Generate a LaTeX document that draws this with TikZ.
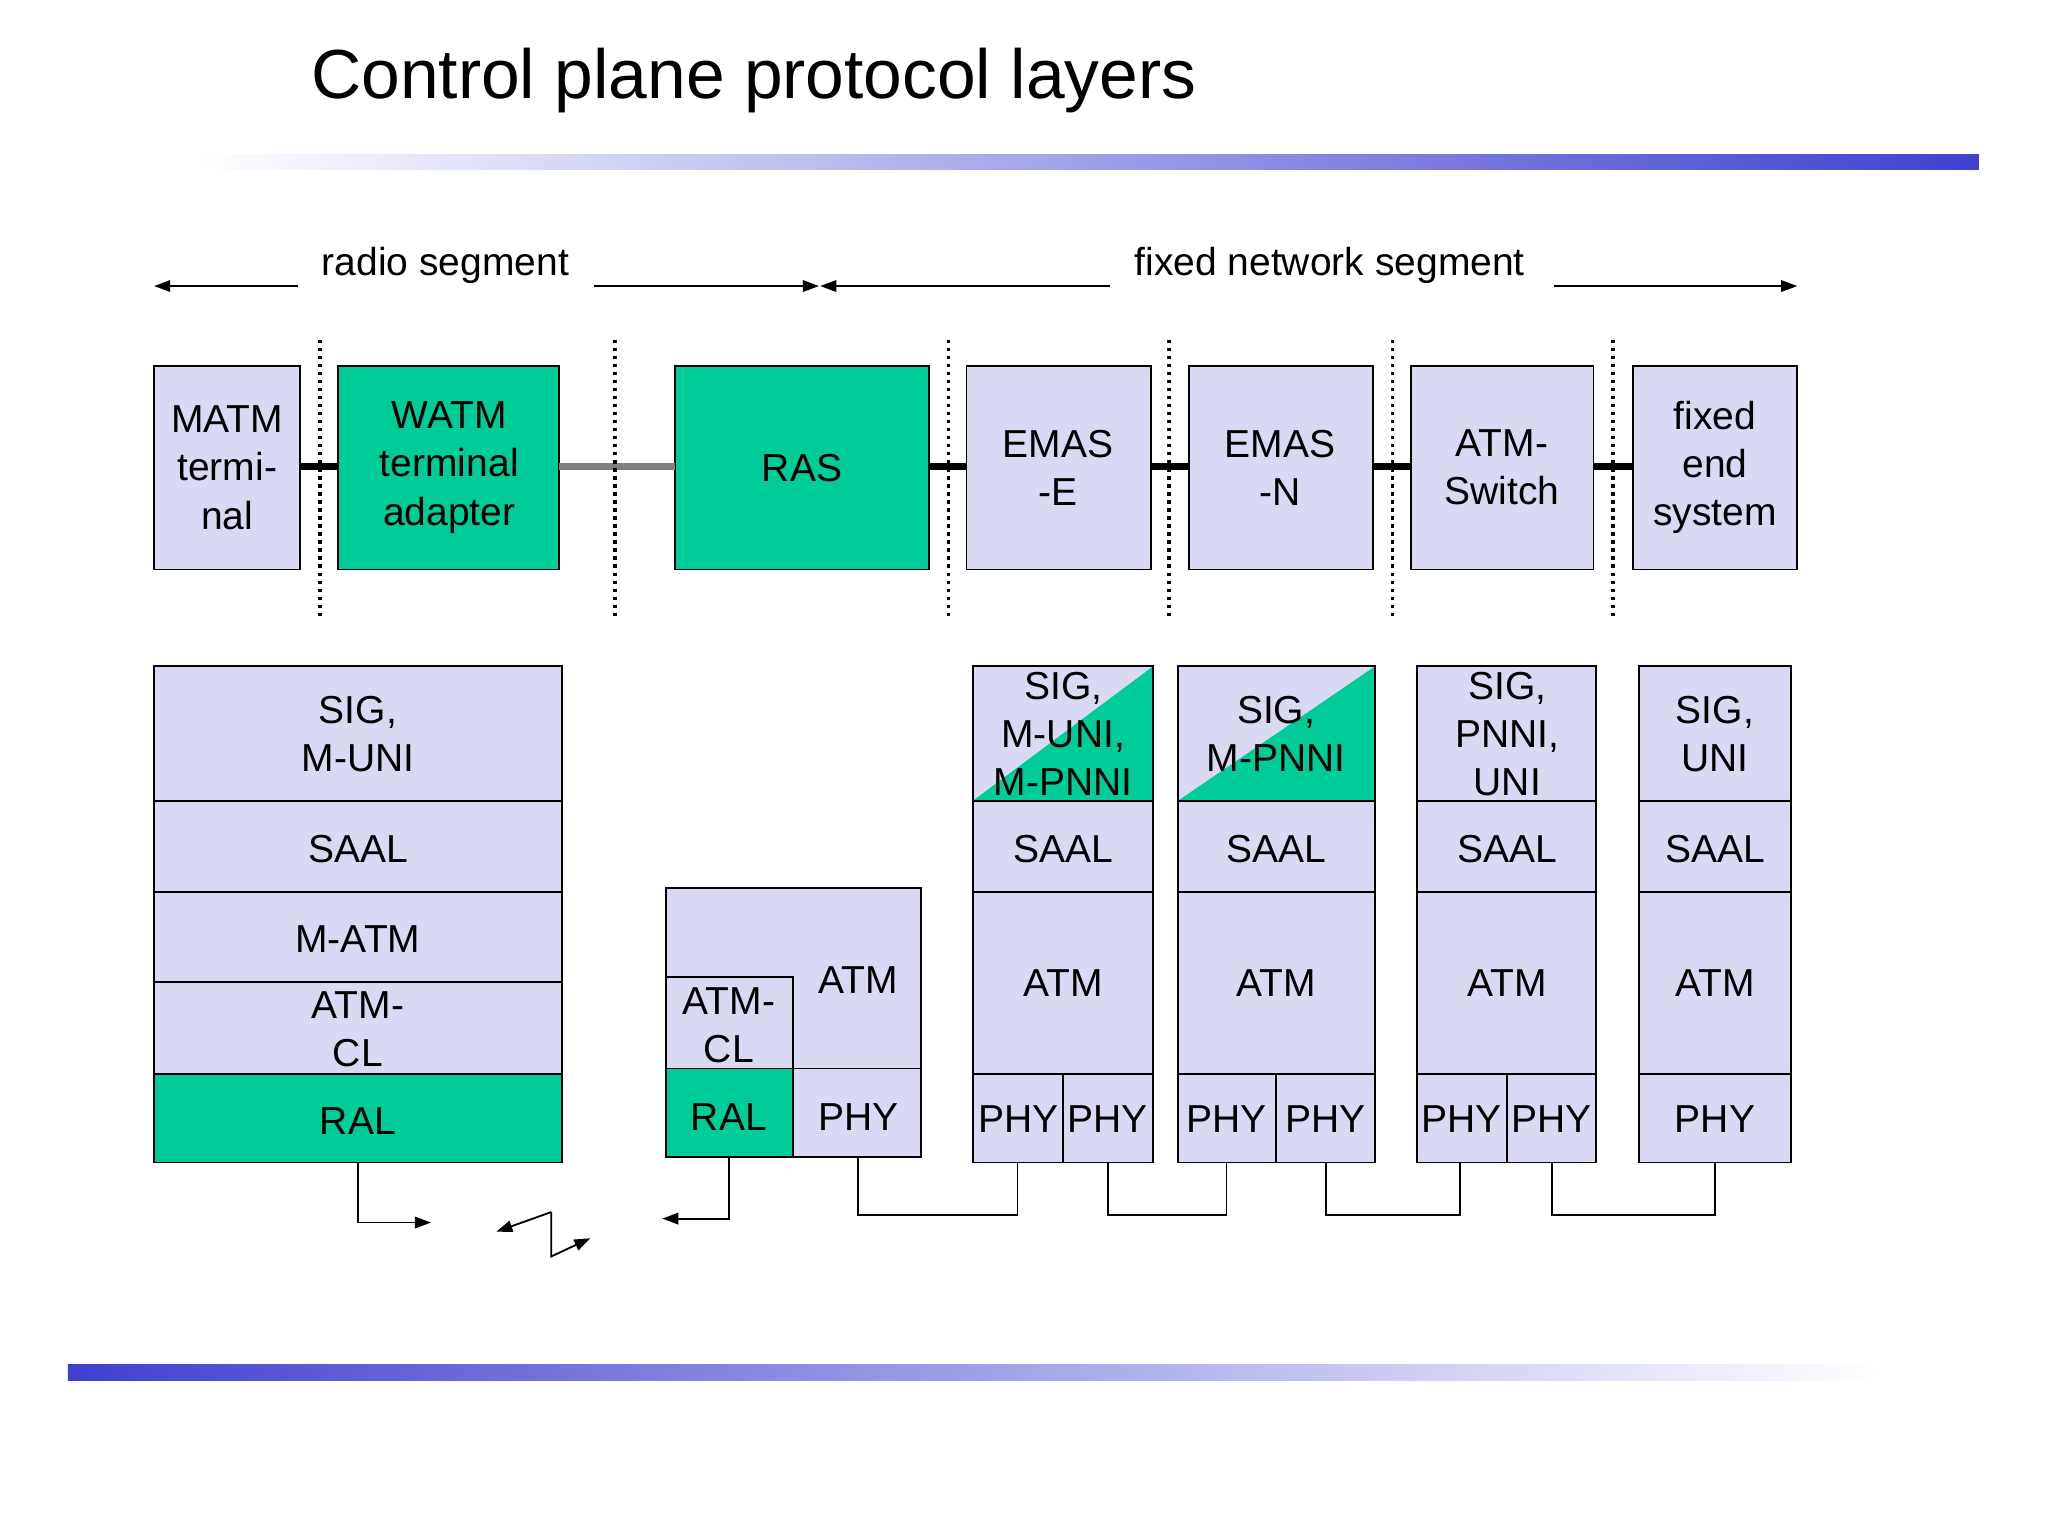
\documentclass[tikz,border=0pt]{standalone}
\usepackage{fontspec}
\setmainfont{Liberation Sans}
\usetikzlibrary{arrows.meta,calc}
\definecolor{lav}{HTML}{D9D9F4}
\definecolor{grn}{HTML}{00CC99}
\definecolor{blu}{HTML}{4040D0}
\begin{document}
\begin{tikzpicture}[x=0.02cm,y=-0.02cm,
  box/.style={draw=black,line width=0.8pt,fill=lav},
  gbox/.style={draw=black,line width=0.8pt,fill=grn},
  lbl/.style={font=\fontsize{17}{21}\selectfont,align=center,inner sep=0pt},
  link/.style={line width=3pt},
  sep/.style={line width=1.5pt,dotted},
  wire/.style={line width=0.8pt},
  tip/.style={-{Triangle[length=7pt,width=5pt]}}]
\useasboundingbox (0,0) rectangle (1568,1176);
\node[font=\fontsize{30.3}{34}\selectfont,anchor=west,inner sep=0pt] (title) at (238,62) {Control plane protocol layers};
\shade[left color=white,right color=blu] (150,118) rectangle (1515,130);
\shade[left color=blu,right color=white] (52,1045) rectangle (1440,1057);
% segments
\node[lbl] (rs) at (341,203) {radio segment};
\node[lbl] (fs) at (1018,203) {fixed network segment};
\coordinate (a1) at (228,219); \coordinate (a2) at (118,219);
\coordinate (a3) at (455,219); \coordinate (a4) at (627,219);
\coordinate (a5) at (850,219); \coordinate (a6) at (628,219);
\coordinate (a7) at (1190,219); \coordinate (a8) at (1376,219);
\draw[wire,tip] (a1) -- (a2); \draw[wire,tip] (a3) -- (a4);
\draw[wire,tip] (a5) -- (a6); \draw[wire,tip] (a7) -- (a8);
% top boxes
\draw[box] (118,280) rectangle (230,436); \node[lbl] (matm) at (174,358) {MATM\\termi-\\nal};
\draw[gbox] (259,280) rectangle (428,436); \node[lbl] (watm) at (344,358) {WATM\\terminal\\adapter};
\draw[gbox] (517,280) rectangle (711,436); \node[lbl] (ras) at (614,358) {RAS};
\draw[box] (740,280) rectangle (881,436); \node[lbl] (emase) at (810,358) {EMAS\\-E};
\draw[box] (910,280) rectangle (1051,436); \node[lbl] (emasn) at (980,358) {EMAS\\-N};
\draw[box] (1080,280) rectangle (1220,436); \node[lbl] (sw) at (1150,358) {ATM-\\Switch};
\draw[box] (1250,280) rectangle (1376,436); \node[lbl] (fes) at (1313,358) {fixed\\end\\system};
\draw[link] (230,357) -- (259,357);
\draw[link,gray] (428,357) -- (517,357);
\draw[link] (711,357) -- (740,357);
\draw[link] (881,357) -- (910,357);
\draw[link] (1051,357) -- (1080,357);
\draw[link] (1220,357) -- (1250,357);
\foreach \x in {245,471,726,895,1066,1235} \draw[sep] (\x,260) -- (\x,475);
% stack 1
\draw[box] (118,510) rectangle (430,613); \node[lbl] (s1a) at (274,562) {SIG,\\M-UNI};
\draw[box] (118,613) rectangle (430,683); \node[lbl] (s1b) at (274,650) {SAAL};
\draw[box] (118,683) rectangle (430,752); \node[lbl] (s1c) at (274,719) {M-ATM};
\draw[box] (118,752) rectangle (430,822); \node[lbl] (s1d) at (274,788) {ATM-\\CL};
\draw[gbox] (118,822) rectangle (430,890); \node[lbl] (s1e) at (274,858) {RAL};
% stack 2
\draw[box] (510,680) rectangle (705,818); \node[lbl] (s2atm) at (657,750) {ATM};
\draw[box] (510,748) rectangle (607,818); \node[lbl] (s2cl) at (558,785) {ATM-\\CL};
\draw[gbox] (510,818) rectangle (607,886); \node[lbl] (s2ral) at (558,855) {RAL};
\draw[box] (607,818) rectangle (705,886); \node[lbl] (s2phy) at (657,855) {PHY};
% generic stacks
\foreach \l/\r/\m/\nm in {745/883/814/c, 902/1053/977/d, 1085/1222/1154/e}{
  \draw[box] (\l,510) rectangle (\r,613);
  \draw[box] (\l,613) rectangle (\r,683);
  \draw[box] (\l,683) rectangle (\r,822);
  \draw[box] (\l,822) rectangle (\m,890);
  \draw[box] (\m,822) rectangle (\r,890);
}
\fill[grn] (745,613) -- (883,510) -- (883,613) -- cycle;
\draw[line width=0.8pt] (745,510) rectangle (883,613);
\fill[grn] (902,613) -- (1053,510) -- (1053,613) -- cycle;
\draw[line width=0.8pt] (902,510) rectangle (1053,613);
\node[lbl] (s3a) at (814,562) {SIG,\\M-UNI,\\M-PNNI};
\node[lbl] (s4a) at (977,562) {SIG,\\M-PNNI};
\node[lbl] (s5a) at (1154,562) {SIG,\\PNNI,\\UNI};
\foreach \c/\nm in {814/c,977/d,1154/e}{
  \node[lbl] (sa\nm) at (\c,650) {SAAL};
  \node[lbl] (at\nm) at (\c,753) {ATM};
}
\node[lbl] (p3a) at (780,857) {PHY}; \node[lbl] (p3b) at (848,857) {PHY};
\node[lbl] (p4a) at (939,857) {PHY}; \node[lbl] (p4b) at (1015,857) {PHY};
\node[lbl] (p5a) at (1119,857) {PHY}; \node[lbl] (p5b) at (1188,857) {PHY};
\draw[box] (1255,510) rectangle (1371,613); \node[lbl] (s6a) at (1313,562) {SIG,\\UNI};
\draw[box] (1255,613) rectangle (1371,683); \node[lbl] (s6b) at (1313,650) {SAAL};
\draw[box] (1255,683) rectangle (1371,822); \node[lbl] (s6c) at (1313,753) {ATM};
\draw[box] (1255,822) rectangle (1371,890); \node[lbl] (s6d) at (1313,857) {PHY};
% bottom wiring
\coordinate (w1) at (330,936); \coordinate (w2) at (507,933);
\draw[wire,tip] (274,890) -- (274,936) -- (w1);
\draw[wire,tip] (558,886) -- (558,933) -- (w2);
\draw[wire,tip] (422,928) -- (380,943);
\draw[wire,tip] (422,928) -- (422,962) -- (452,948);
\draw[wire] (657,886) -- (657,930) -- (779,930) -- (779,890);
\draw[wire] (848,890) -- (848,930) -- (939,930) -- (939,890);
\draw[wire] (1015,890) -- (1015,930) -- (1118,930) -- (1118,890);
\draw[wire] (1188,890) -- (1188,930) -- (1313,930) -- (1313,890);
\end{tikzpicture}
\end{document}
